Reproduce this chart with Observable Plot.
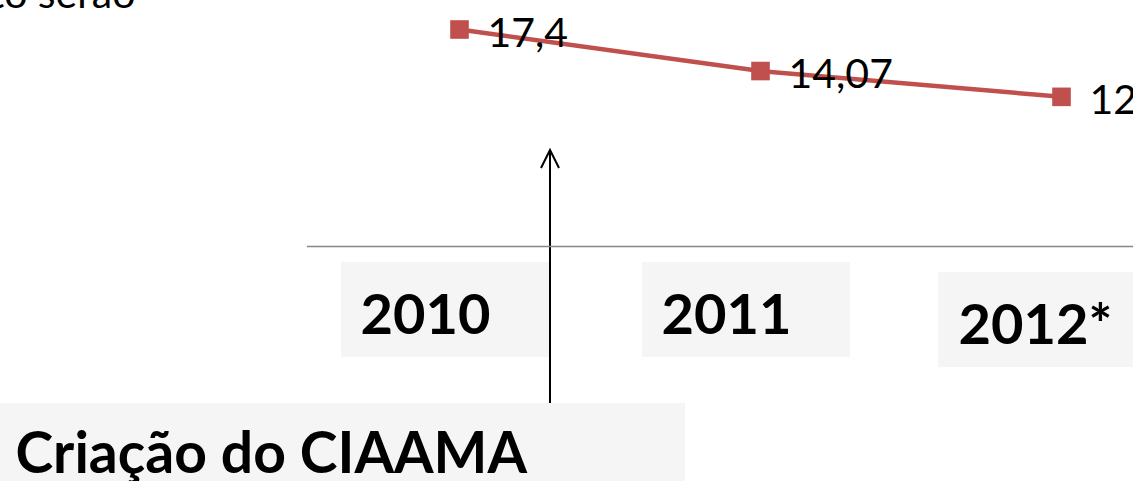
<!DOCTYPE html>
<html>
<head>
<meta charset="utf-8">
<script src="https://cdn.jsdelivr.net/npm/d3@7"></script>
<script src="https://cdn.jsdelivr.net/npm/@observablehq/plot@0.6"></script>
<style>
  html, body { margin: 0; padding: 0; background: #fff; overflow: hidden; }
  #chart svg { overflow: hidden; }
</style>
</head>
<body>
<div id="chart"></div>
<script>
// ---- data ----
const years = ["2010", "2011", "2012*"];
const values = [17.4, 14.07, 12];
const valueLabels = ["17,4", "14,07", "12"];
const annotationText = "Criação do CIAAMA";
const annotationYear = "2010";
const topText = "to serão";

const data = years.map((year, i) => ({year, value: values[i], label: valueLabels[i]}));

const FONT = "Lato, 'Open Sans', sans-serif";
const RED = "#c0504d";
const BOX = "#f5f5f5";

// decoration drawn from the library's scales (label boxes, arrow, annotation box)
function decorations(...args) {
  const scales = args.find(a => a && typeof a.x === "function" && typeof a.y === "function");
  const dims = args.find(a => a && typeof a === "object" && "marginLeft" in a && "width" in a);
  const g = d3.create("svg:g");
  const x = scales.x, y = scales.y;
  const base = y(0);
  // year label boxes
  years.forEach((yr, i) => {
    const last = i === years.length - 1;
    const cx = x(yr);
    g.append("rect")
      .attr("x", cx - (last ? 123 : 118))
      .attr("y", base + (last ? 26 : 16))
      .attr("width", last ? 260 : 208)
      .attr("height", 95)
      .attr("fill", BOX);
  });
  // annotation box
  g.append("rect")
    .attr("x", -10).attr("y", base + 157)
    .attr("width", 695).attr("height", dims.height - base - 157 + 10)
    .attr("fill", BOX);
  // arrow
  const ax = x(annotationYear) + 91;
  const tip = y(7.7);
  g.append("line")
    .attr("x1", ax).attr("x2", ax)
    .attr("y1", base + 157).attr("y2", tip)
    .attr("stroke", "#000").attr("stroke-width", 2);
  g.append("path")
    .attr("d", `M${ax - 9},${tip + 18}L${ax},${tip}L${ax + 9},${tip + 18}`)
    .attr("fill", "none").attr("stroke", "#000").attr("stroke-width", 2);
  return g.node();
}

const chart = Plot.plot({
  width: 1133,
  height: 481,
  marginLeft: 307,
  marginRight: -79,
  marginTop: 29,
  marginBottom: 235,
  style: {fontFamily: FONT, background: "#fff", overflow: "hidden"},
  x: {type: "point", domain: years, padding: 0.5, axis: null},
  y: {domain: [0, 17.4], axis: null},
  marks: [
    decorations,
    Plot.ruleY([0], {stroke: "#868686", strokeWidth: 1.5}),
    Plot.line(data, {x: "year", y: "value", stroke: RED, strokeWidth: 4.5}),
    Plot.dot(data, {x: "year", y: "value", symbol: "square", r: 10.5, fill: RED, stroke: "none"}),
    Plot.text(data, {x: "year", y: "value", text: "label", textAnchor: "start", lineAnchor: "middle",
      dx: 28, dy: 4, fontSize: 41, fill: "#000", fontFamily: FONT}),
    Plot.text(data.slice(0, 2), {x: "year", text: "year", frameAnchor: "bottom", textAnchor: "start",
      lineAnchor: "bottom", dx: -99, dy: 87, fontSize: 56, fontWeight: "bold", fill: "#000", fontFamily: FONT}),
    Plot.text(data.slice(2), {x: "year", text: "year", frameAnchor: "bottom", textAnchor: "start",
      lineAnchor: "bottom", dx: -103, dy: 97, fontSize: 56, fontWeight: "bold", fill: "#000", fontFamily: FONT}),
    Plot.text([annotationText], {text: d => d, frameAnchor: "bottom-left", textAnchor: "start",
      lineAnchor: "bottom", dx: -292, dy: 226, fontSize: 57, fontWeight: "bold", fill: "#000", fontFamily: FONT}),
    Plot.text([topText], {text: d => d, frameAnchor: "top-left", textAnchor: "end",
      lineAnchor: "bottom", dx: -172, dy: -22, fontSize: 41, fill: "#000", fontFamily: FONT})
  ]
});
document.getElementById("chart").appendChild(chart);
</script>
</body>
</html>
